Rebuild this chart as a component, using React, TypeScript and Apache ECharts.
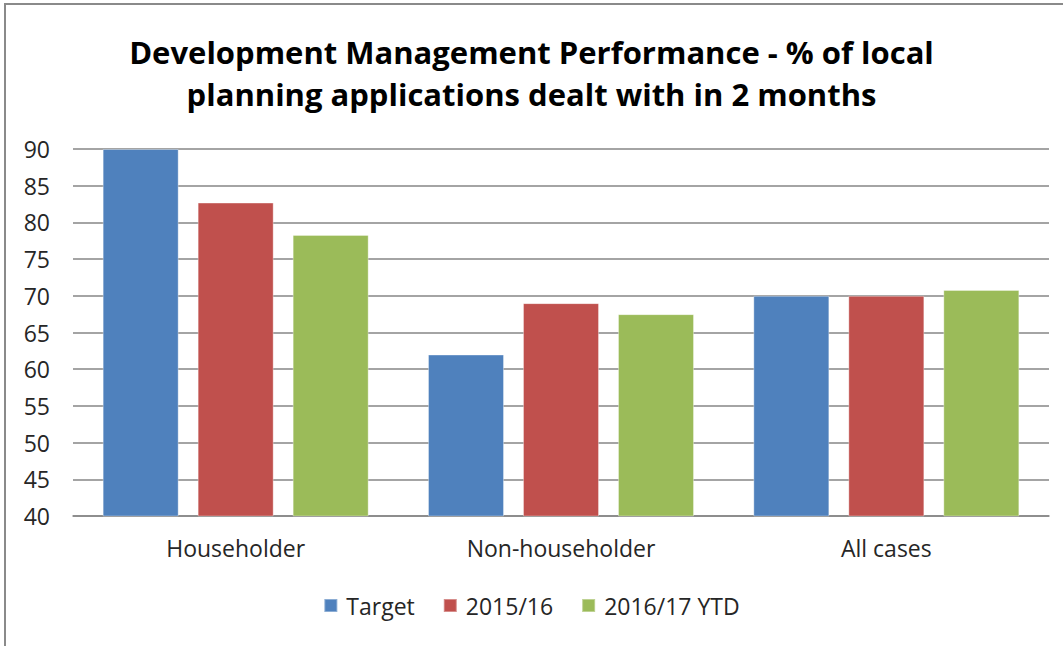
import React, { useEffect, useRef } from "react";
import * as echarts from "echarts";

const categories = ["Householder", "Non-householder", "All cases"];
const seriesNames = ["Target", "2015/16", "2016/17 YTD"];
const targetValues = [90, 62, 70];
const values2015 = [82.7, 69.0, 70];
const values2016 = [78.3, 67.5, 70.8];
const colors = ["#4F81BD", "#C0504D", "#9BBB59"];
const titleText =
  "Development Management Performance - % of local\nplanning applications dealt with in 2 months";

const FONT = "'Open Sans', sans-serif";

export default function App() {
  const ref = useRef<HTMLDivElement>(null);
  useEffect(() => {
    if (!ref.current) return;
    const chart = echarts.init(ref.current, undefined, { renderer: "svg" });
    const allValues = [targetValues, values2015, values2016];
    chart.setOption({
      animation: false,
      backgroundColor: "#ffffff",
      title: {
        text: titleText,
        left: "center",
        top: 26,
        textStyle: {
          fontFamily: FONT,
          fontWeight: "bold",
          fontSize: 31,
          lineHeight: 42,
          color: "#000000",
        },
      },
      legend: {
        bottom: 24,
        left: "center",
        itemWidth: 13,
        itemHeight: 13,
        itemGap: 28,
        icon: "rect",
        textStyle: {
          fontFamily: FONT,
          fontSize: 23,
          color: "#262626",
          padding: [0, 0, 0, 4],
        },
        data: seriesNames,
      },
      grid: { left: 73, right: 14, top: 149, bottom: 130 },
      xAxis: {
        type: "category",
        data: categories,
        axisLine: { lineStyle: { color: "#868686", width: 1.5 } },
        axisTick: { show: false },
        axisLabel: {
          fontFamily: FONT,
          fontSize: 23,
          color: "#262626",
          margin: 20,
        },
      },
      yAxis: {
        type: "value",
        min: 40,
        max: 90,
        interval: 5,
        axisLine: { show: false },
        axisTick: { show: false },
        splitLine: { lineStyle: { color: "#868686", width: 1.5 } },
        axisLabel: {
          fontFamily: FONT,
          fontSize: 23,
          color: "#262626",
          margin: 23,
        },
      },
      graphic: [
        {
          type: "rect",
          shape: { x: 5, y: 4, width: 1200, height: 800 },
          style: { fill: "none", stroke: "#8a8a8a", lineWidth: 2 },
          silent: true,
        },
      ],
      series: seriesNames.map((name, i) => ({
        name,
        type: "bar",
        data: allValues[i],
        barWidth: 76,
        barGap: "25%",
        itemStyle: {
          color: colors[i],
          borderColor: "rgba(255,255,255,0.35)",
          borderWidth: 1,
        },
      })),
    });
    return () => chart.dispose();
  }, []);
  return (
    <div
      ref={ref}
      style={{ position: "absolute", left: 0, top: 0, width: 1063, height: 646 }}
    />
  );
}
